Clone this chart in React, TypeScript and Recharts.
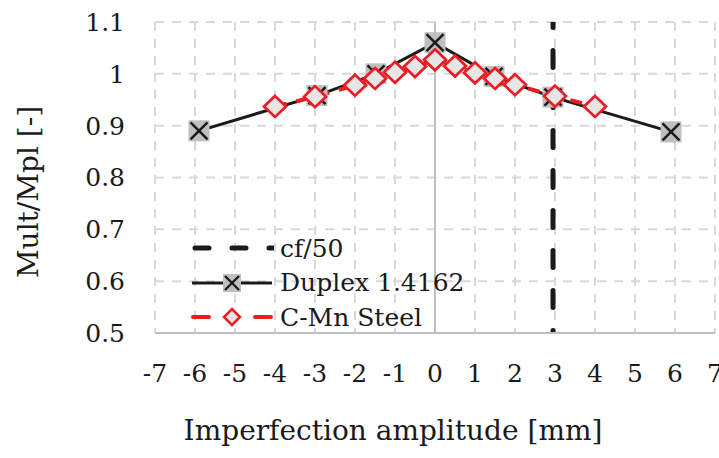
import React from 'react';
import { ComposedChart, Line, XAxis, YAxis, CartesianGrid, ReferenceLine, Legend } from 'recharts';

const xTicks = [-7, -6, -5, -4, -3, -2, -1, 0, 1, 2, 3, 4, 5, 6, 7];
const yTicks = [0.5, 0.6, 0.7, 0.8, 0.9, 1, 1.1];

const duplexX = [-5.9, -2.95, -1.475, 0, 1.475, 2.95, 5.9];
const duplexY = [0.89, 0.958, 1.0, 1.06, 0.995, 0.955, 0.888];

const cmnX = [-4, -3, -2, -1.5, -1, -0.5, 0, 0.5, 1, 1.5, 2, 3, 4];
const cmnY = [0.937, 0.956, 0.978, 0.991, 1.003, 1.014, 1.027, 1.015, 1.002, 0.991, 0.979, 0.957, 0.937];

const cfX = [2.95, 2.95];
const cfY = [0.5, 1.1];

const seriesNames = ['cf/50', 'Duplex 1.4162', 'C-Mn Steel'];

const duplexData = duplexX.map((x, i) => ({ x, y: duplexY[i] }));
const cmnData = cmnX.map((x, i) => ({ x, y: cmnY[i] }));
const cfData = cfX.map((x, i) => ({ x, y: cfY[i] }));

const FONT = '"DejaVu Serif", "Liberation Serif", serif';
const TEXT = '#1a1a1a';
const RED = '#ed1c24';

const SquareX = (props: any) => {
  const { cx, cy, index } = props;
  if (cx == null || cy == null) return <g key={`sq-${index}`} />;
  const h = 10.5;
  const a = 8.5;
  return (
    <g key={`sq-${index}`}>
      <rect x={cx - h} y={cy - h} width={2 * h} height={2 * h} fill="#bfbfbf" />
      <line x1={cx - a} y1={cy - a} x2={cx + a} y2={cy + a} stroke={TEXT} strokeWidth={2.5} />
      <line x1={cx - a} y1={cy + a} x2={cx + a} y2={cy - a} stroke={TEXT} strokeWidth={2.5} />
    </g>
  );
};

const Diamond = (props: any) => {
  const { cx, cy, index } = props;
  if (cx == null || cy == null) return <g key={`dm-${index}`} />;
  const w = 11;
  const h = 10.5;
  return (
    <path
      key={`dm-${index}`}
      d={`M${cx},${cy - h} L${cx + w},${cy} L${cx},${cy + h} L${cx - w},${cy} Z`}
      fill="#e6e6e6"
      stroke={RED}
      strokeWidth={2.7}
    />
  );
};

const XTitle = () => (
  <text x={393} y={430} textAnchor="middle" dominantBaseline="central" fontFamily={FONT} fontSize={28} fill={TEXT}>
    Imperfection amplitude [mm]
  </text>
);

const YTitle = () => (
  <text
    x={28}
    y={192}
    transform="rotate(-90, 28, 192)"
    textAnchor="middle"
    dominantBaseline="central"
    fontFamily={FONT}
    fontSize={28}
    fill={TEXT}
  >
    Mult/Mpl [-]
  </text>
);

const LegendContent = () => {
  const rowStyle: React.CSSProperties = { display: 'flex', alignItems: 'center', height: 34.5 };
  const textStyle: React.CSSProperties = { fontFamily: FONT, fontSize: 25, color: TEXT, marginLeft: 6, whiteSpace: 'nowrap' };
  return (
    <div>
      <div style={rowStyle}>
        <svg width={84} height={20}>
          <line x1={5} y1={10} x2={84} y2={10} stroke={TEXT} strokeWidth={5} strokeLinecap="round" strokeDasharray="14 23" />
        </svg>
        <span style={textStyle}>{seriesNames[0]}</span>
      </div>
      <div style={rowStyle}>
        <svg width={84} height={24}>
          <line x1={2} y1={12} x2={82} y2={12} stroke={TEXT} strokeWidth={3} />
          <rect x={33} y={3} width={18} height={18} fill="#bfbfbf" />
          <line x1={35} y1={5} x2={49} y2={19} stroke={TEXT} strokeWidth={2.3} />
          <line x1={35} y1={19} x2={49} y2={5} stroke={TEXT} strokeWidth={2.3} />
        </svg>
        <span style={textStyle}>{seriesNames[1]}</span>
      </div>
      <div style={rowStyle}>
        <svg width={84} height={24}>
          <line x1={3} y1={12} x2={19} y2={12} stroke={RED} strokeWidth={4} strokeLinecap="round" />
          <line x1={65} y1={12} x2={81} y2={12} stroke={RED} strokeWidth={4} strokeLinecap="round" />
          <path d="M42,4 L50,12 L42,20 L34,12 Z" fill="#e6e6e6" stroke={RED} strokeWidth={2.5} />
        </svg>
        <span style={textStyle}>{seriesNames[2]}</span>
      </div>
    </div>
  );
};

export default function App() {
  return (
    <div style={{ position: 'absolute', left: 0, top: 0, width: 719, height: 458, background: '#fff' }}>
      <ComposedChart width={719} height={458} margin={{ top: 22, right: 4, left: 0, bottom: 65 }}>
        <CartesianGrid stroke="#d9d9d9" strokeWidth={2} strokeDasharray="9 8" />
        <XAxis
          type="number"
          dataKey="x"
          domain={[-7, 7]}
          ticks={xTicks}
          allowDataOverflow
          interval={0}
          height={60}
          axisLine={{ stroke: '#bfbfbf', strokeWidth: 2 }}
          tickLine={false}
          tickSize={0}
          tickMargin={31}
          tick={{ fontFamily: FONT, fontSize: 25, fill: TEXT }}
          label={<XTitle />}
        />
        <YAxis
          type="number"
          dataKey="y"
          domain={[0.5, 1.1]}
          ticks={yTicks}
          allowDataOverflow
          interval={0}
          width={155}
          axisLine={false}
          tickLine={false}
          tickSize={0}
          tickMargin={30}
          tick={{ fontFamily: FONT, fontSize: 25, fill: TEXT }}
          label={<YTitle />}
        />
        <ReferenceLine x={0} stroke="#bfbfbf" strokeWidth={2} />
        <Line
          data={cfData}
          dataKey="y"
          name={seriesNames[0]}
          type="linear"
          stroke={TEXT}
          strokeWidth={5}
          strokeLinecap="round"
          strokeDasharray="17 23"
          strokeDashoffset={14.5}
          dot={false}
          activeDot={false}
          isAnimationActive={false}
        />
        <Line
          data={duplexData}
          dataKey="y"
          name={seriesNames[1]}
          type="linear"
          stroke={TEXT}
          strokeWidth={3}
          dot={SquareX}
          activeDot={false}
          isAnimationActive={false}
        />
        <Line
          data={cmnData}
          dataKey="y"
          name={seriesNames[2]}
          type="linear"
          stroke={RED}
          strokeWidth={4}
          strokeDasharray="12 10"
          dot={Diamond}
          activeDot={false}
          isAnimationActive={false}
        />
        <Legend
          layout="vertical"
          align="center"
          verticalAlign="middle"
          content={<LegendContent />}
          wrapperStyle={{ position: 'absolute', left: 190, top: 231, width: 320, height: 104 }}
        />
      </ComposedChart>
    </div>
  );
}
